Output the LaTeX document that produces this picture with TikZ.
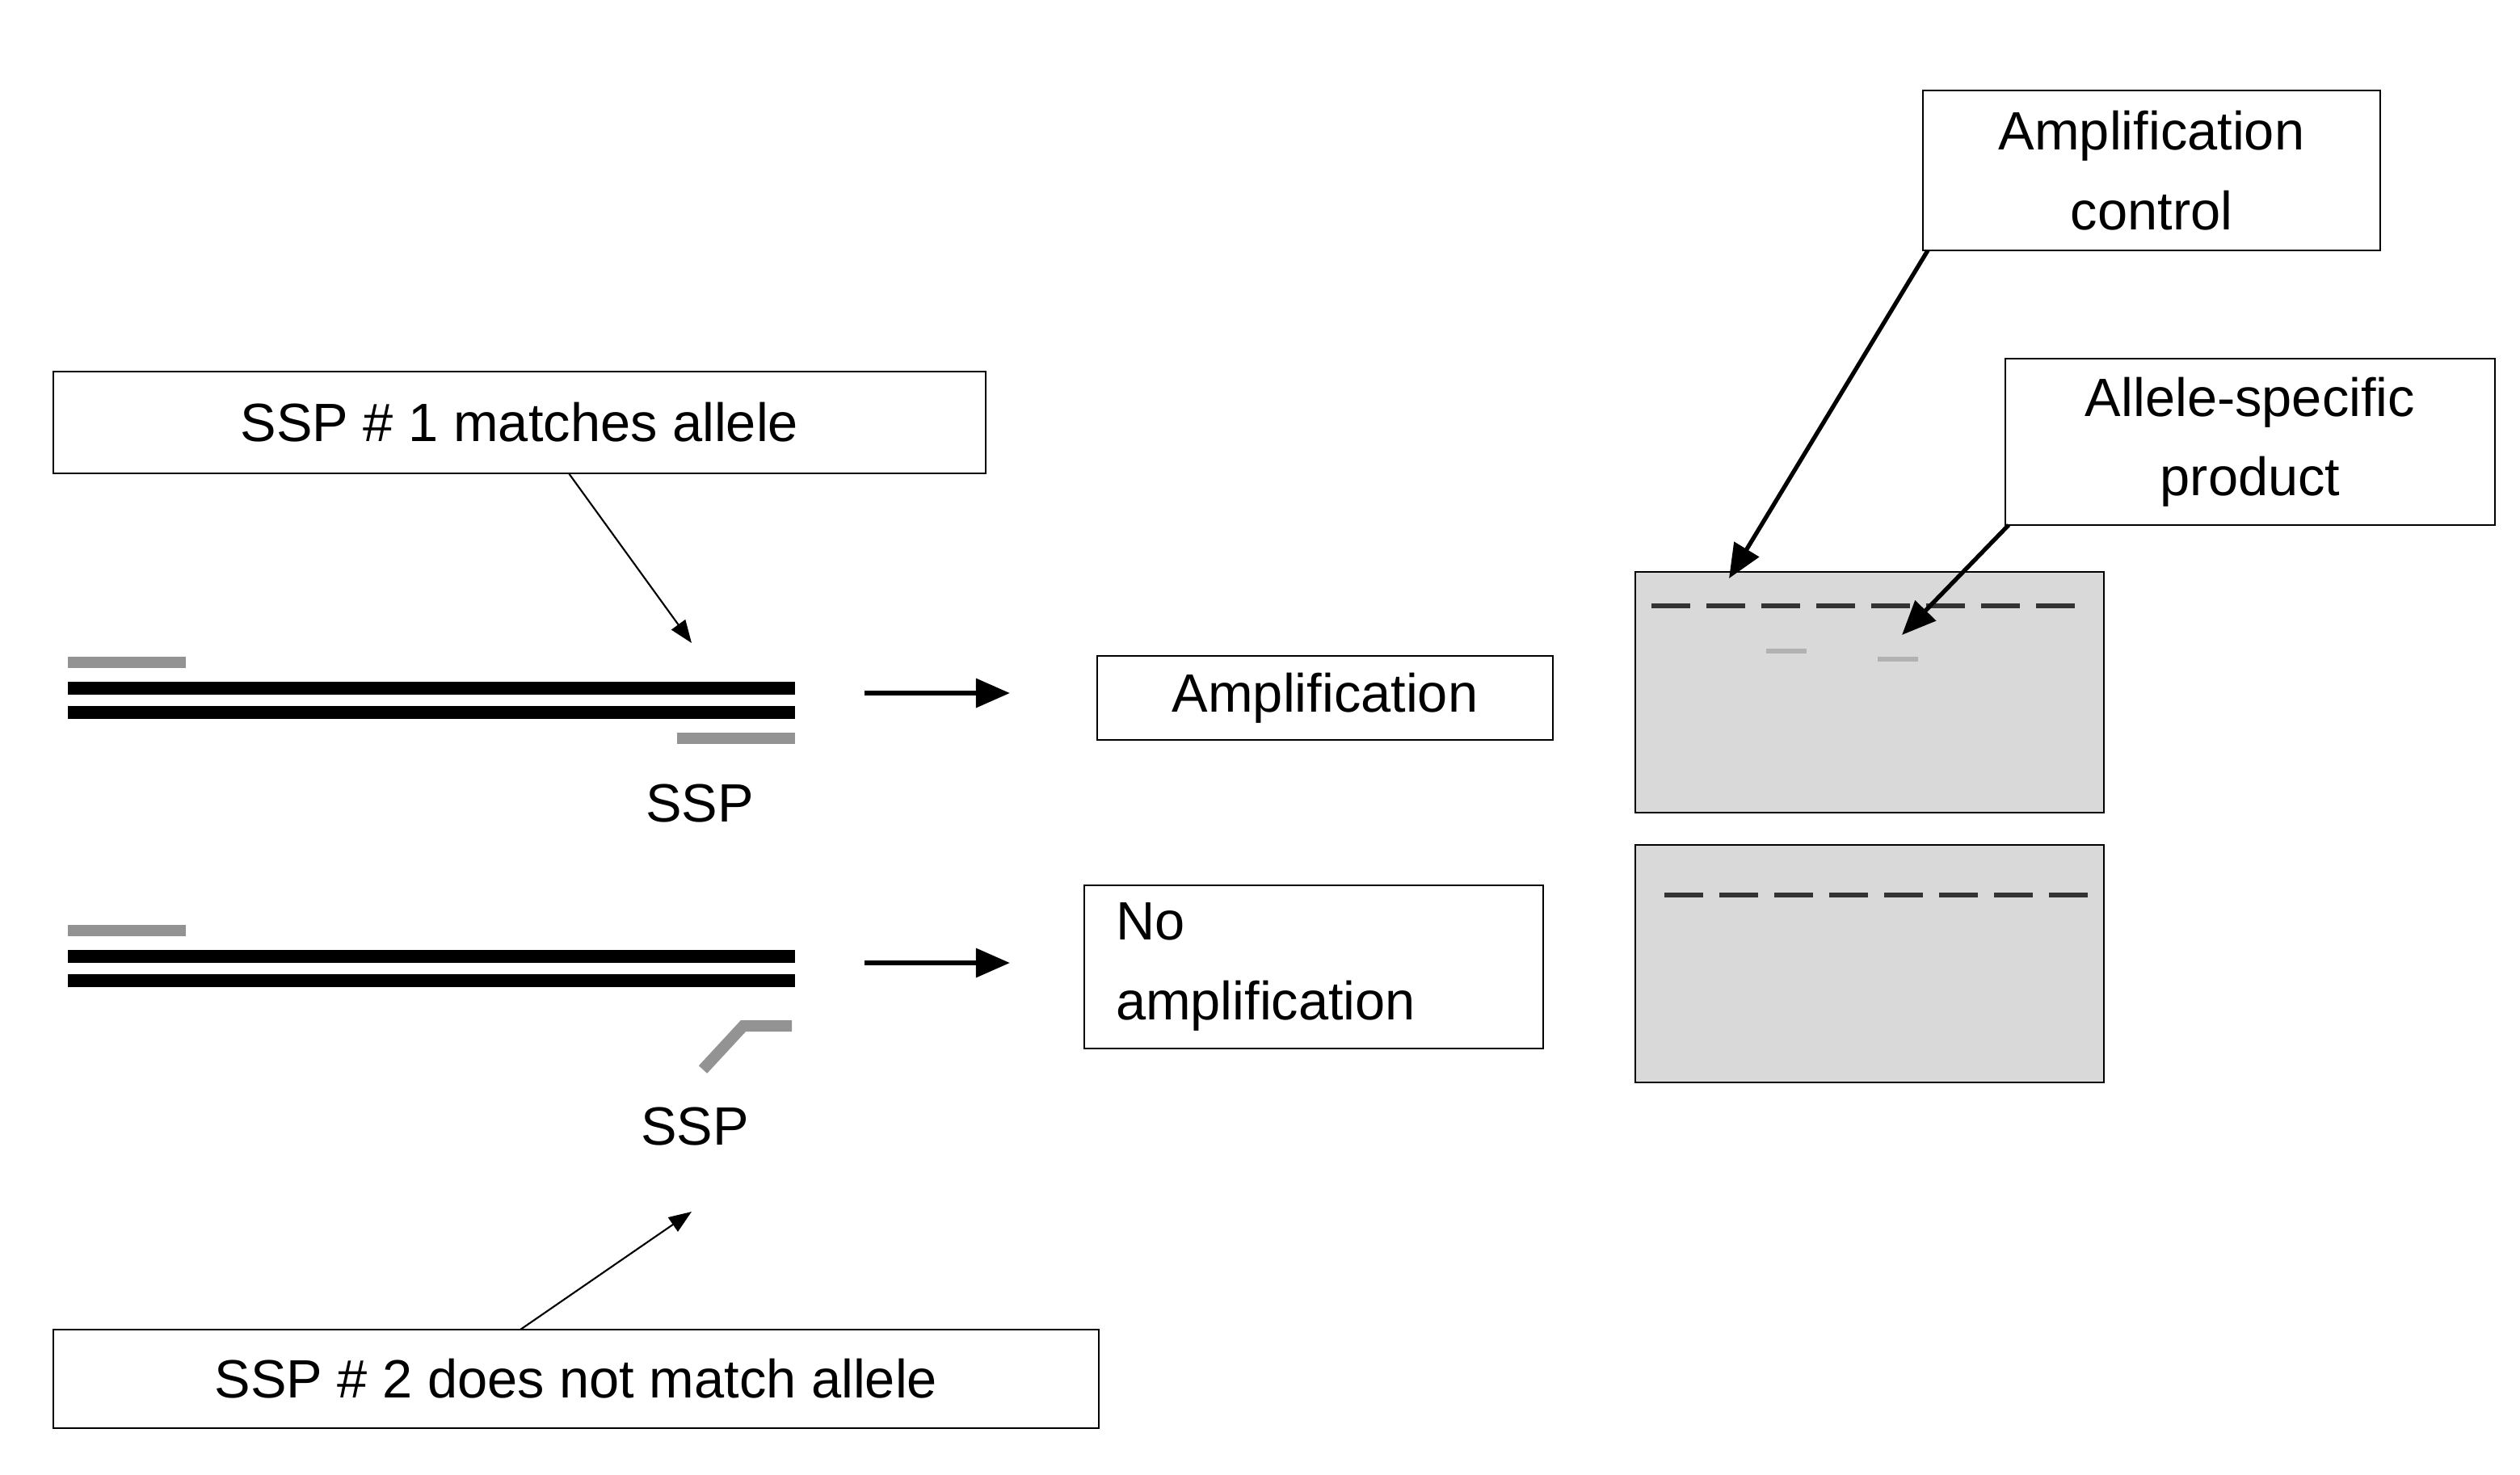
\documentclass[tikz,border=0pt]{standalone}
\usepackage{fontspec}
\setmainfont{Liberation Sans}
\usetikzlibrary{arrows.meta}
\begin{document}
\begin{tikzpicture}[x=0.02cm,y=-0.02cm,
 box/.style={draw,thick,inner sep=0pt,font=\fontsize{19}{28}\selectfont,align=center},
 lbl/.style={font=\fontsize{19}{28}\selectfont},
 thin arr/.style={-{Triangle[length=8pt,width=6pt]},line width=0.6pt},
 thick arr/.style={-{Triangle[length=12pt,width=10pt]},line width=1.8pt},
 dna/.style={line width=4.5pt,black},
 primer/.style={line width=4pt,gray!85},
 gel/.style={draw,thick,fill=gray!30},
 band/.style={line width=1.5pt,gray!40!black}]
\useasboundingbox (0,0) rectangle (1559.5,912.5);
% top boxes
\node[box,minimum width=577*0.02cm,minimum height=63*0.02cm] (b1) at (321.5,261.5) {SSP \# 1 matches allele};
\node[box,minimum width=647*0.02cm,minimum height=61*0.02cm] (b2) at (356.5,853.5) {SSP \# 2 does not match allele};
\coordinate (t1) at (428,398);
\coordinate (t2) at (428,750);
\draw[thin arr] (352,293) -- (t1);
\draw[thin arr] (322,823) -- (t2);
% DNA 1
\draw[primer] (42,410) -- (115,410);
\draw[dna] (42,426) -- (492,426);
\draw[dna] (42,441) -- (492,441);
\draw[primer] (419,457) -- (492,457);
\node[lbl] (s1) at (433,497) {SSP};
% DNA 2
\draw[primer] (42,576) -- (115,576);
\draw[dna] (42,592) -- (492,592);
\draw[dna] (42,607) -- (492,607);
\draw[primer] (435,662) -- (460,635) -- (490,635);
\node[lbl] (s2) at (430,697) {SSP};
% result boxes
\node[box,minimum width=282*0.02cm,minimum height=52*0.02cm] (amp) at (820,432) {Amplification};
\node[box,minimum width=284*0.02cm,minimum height=101*0.02cm,align=left,text width=245*0.02cm] (noamp) at (813,598.5) {No\\amplification};
\coordinate (a1s) at (535,429); \coordinate (a1e) at (625,429);
\coordinate (a2s) at (535,596); \coordinate (a2e) at (625,596);
\draw[thick arr] (a1s) -- (a1e);
\draw[thick arr] (a2s) -- (a2e);
% gels
\node[gel,minimum width=290*0.02cm,minimum height=149*0.02cm,inner sep=0pt] (g1) at (1157,428.5) {};
\node[gel,minimum width=290*0.02cm,minimum height=147*0.02cm,inner sep=0pt] (g2) at (1157,596.5) {};
\draw[band,dash pattern=on 0.48cm off 0.2cm] (1022,375) -- (1290,375);
\draw[band,gray!60] (1093,403) -- (1118,403);
\draw[band,gray!60] (1162,408) -- (1187,408);
\draw[band,dash pattern=on 0.48cm off 0.2cm] (1030,554) -- (1297,554);
% label boxes
\node[box,minimum width=283*0.02cm,minimum height=99*0.02cm] (ac) at (1331.5,105.5) {Amplification\\control};
\node[box,minimum width=303*0.02cm,minimum height=103*0.02cm] (as) at (1392.5,273.5) {Allele-specific\\product};
\coordinate (ace) at (1070,358);
\coordinate (ase) at (1177,393);
\draw[thick arr,line width=1.5pt] (1193,155) -- (ace);
\draw[thick arr,line width=1.5pt] (1243,325) -- (ase);
\end{tikzpicture}
\end{document}
